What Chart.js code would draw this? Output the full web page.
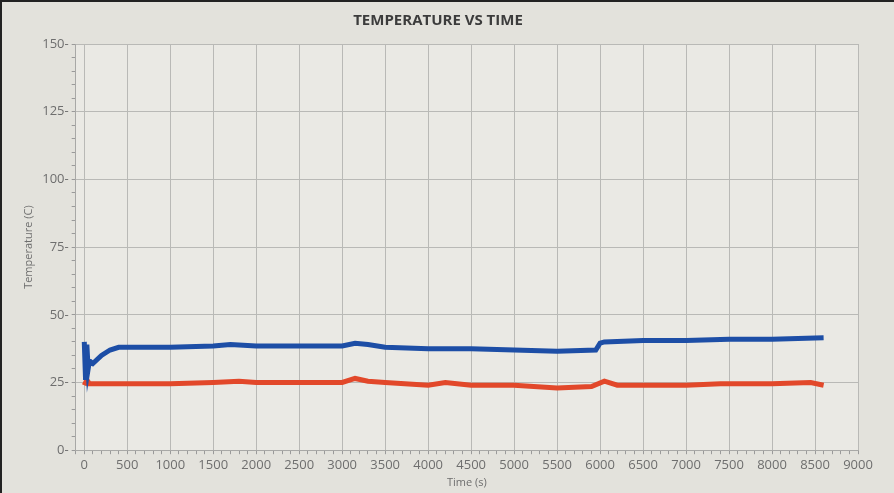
<!DOCTYPE html>
<html>
<head>
<meta charset="utf-8">
<script src="https://cdn.jsdelivr.net/npm/chart.js@4"></script>
<style>
    body { margin: 0; background: #e3e2dc; }
    #marco { width: 894px; height: 493px; position: relative; border-top: 2px solid #222; border-left: 2px solid #222; box-sizing: border-box; }
</style>
</head>
<body>
<div id="marco"><canvas id="grafico" width="892" height="491"></canvas></div>
<script>
const tiempoAzul = [0, 15, 30, 45, 60, 100, 200, 300, 400, 600, 1000, 1500, 1700, 2000, 2500, 3000, 3150, 3300, 3500, 4000, 4500, 5000, 5500, 5950, 6000, 6050, 6500, 7000, 7500, 8000, 8600];
const tempAzul   = [40, 26, 39, 30, 33, 32, 35, 37, 38, 38, 38, 38.5, 39, 38.5, 38.5, 38.5, 39.5, 39, 38, 37.5, 37.5, 37, 36.5, 37, 39.5, 40, 40.5, 40.5, 41, 41, 41.5];

const tiempoRojo = [0, 30, 60, 500, 1000, 1500, 1800, 2000, 2500, 3000, 3150, 3300, 3500, 4000, 4200, 4500, 5000, 5500, 5900, 6050, 6200, 6500, 7000, 7400, 8000, 8450, 8600];
const tempRojo   = [24, 26, 24.5, 24.5, 24.5, 25, 25.5, 25, 25, 25, 26.5, 25.5, 25, 24, 25, 24, 24, 23, 23.5, 25.5, 24, 24, 24, 24.5, 24.5, 25, 24];

function aPuntos(xs, ys) {
    return xs.map((x, i) => ({ x: x, y: ys[i] }));
}

// Fondo del area de trazado
const fondoArea = {
    id: 'fondoArea',
    beforeDraw(chart) {
        const { ctx, chartArea } = chart;
        ctx.save();
        ctx.fillStyle = '#eae9e4';
        ctx.fillRect(chartArea.left, chartArea.top, chartArea.right - chartArea.left, chartArea.bottom - chartArea.top);
        ctx.restore();
    }
};

new Chart(document.getElementById('grafico'), {
    type: 'line',
    data: {
        datasets: [
            {
                label: 'Azul',
                data: aPuntos(tiempoAzul, tempAzul),
                borderColor: '#1d4ea6',
                borderWidth: 5,
                pointRadius: 0,
                tension: 0
            },
            {
                label: 'Rojo',
                data: aPuntos(tiempoRojo, tempRojo),
                borderColor: '#e2482a',
                borderWidth: 5,
                pointRadius: 0,
                tension: 0
            }
        ]
    },
    options: {
        responsive: false,
        animation: false,
        layout: { padding: { left: 16, right: 36, top: 4, bottom: 0 } },
        plugins: {
            legend: { display: false },
            tooltip: { enabled: false },
            title: {
                display: true,
                text: 'TEMPERATURE VS TIME',
                color: '#3c3c3c',
                font: { family: 'Open Sans', size: 15, weight: 'bold' },
                padding: { top: 6, bottom: 14 }
            }
        },
        scales: {
            x: {
                type: 'linear',
                min: -100,
                max: 9000,
                ticks: {
                    stepSize: 100,
                    autoSkip: false,
                    maxRotation: 0,
                    color: '#6e6e6e',
                    font: { family: 'Open Sans', size: 13 },
                    callback: v => (v >= 0 && v % 500 === 0) ? v : ''
                },
                grid: {
                    color: c => (c.tick && c.tick.value >= 0 && c.tick.value % 500 === 0) ? '#b9b9b6' : 'rgba(0,0,0,0)',
                    tickColor: '#9a9a9a',
                    tickLength: 4
                },
                border: { color: '#a8a8a6' },
                title: {
                    display: true,
                    text: 'Time (s)',
                    color: '#6e6e6e',
                    font: { family: 'Open Sans', size: 11 },
                    padding: { top: 0 }
                }
            },
            y: {
                min: 0,
                max: 150,
                ticks: {
                    stepSize: 5,
                    autoSkip: false,
                    color: '#6e6e6e',
                    font: { family: 'Open Sans', size: 13 },
                    callback: v => v % 25 === 0 ? v + '-' : ''
                },
                grid: {
                    color: c => (c.tick && c.tick.value % 25 === 0) ? '#b9b9b6' : 'rgba(0,0,0,0)',
                    tickColor: '#9a9a9a',
                    tickLength: 4
                },
                border: { color: '#a8a8a6' },
                title: {
                    display: true,
                    text: 'Temperature (C)',
                    color: '#6e6e6e',
                    font: { family: 'Open Sans', size: 11 }
                }
            }
        }
    },
    plugins: [fondoArea]
});
</script>
</body>
</html>
